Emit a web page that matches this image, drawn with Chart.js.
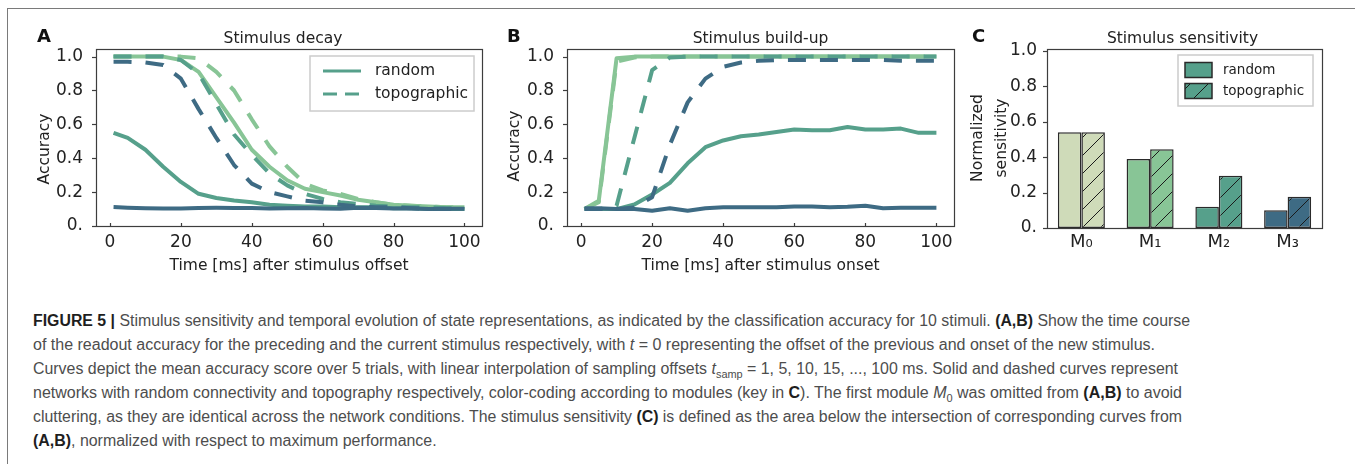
<!DOCTYPE html>
<html>
<head>
<meta charset="utf-8">
<script src="https://cdn.jsdelivr.net/npm/chart.js@4.4.1/dist/chart.umd.min.js"></script>
<style>
html, body { margin: 0; padding: 0; background: #fff; }
body { width: 1355px; height: 467px; position: relative; overflow: hidden; }
.frame { position: absolute; left: 7px; top: 8px; width: 1400px; height: 455px; border-left: 1.5px solid #7a7a7a; border-top: 1.5px solid #7a7a7a; }
canvas { position: absolute; top: 0; }
#capt { position: absolute; left: 33px; top: 309px; font-family: 'Liberation Sans Narrow', 'Liberation Sans', Arial, sans-serif; font-size: 16px; color: #4d4d4d; }
#capt div { white-space: nowrap; line-height: 24px; height: 24px; width: max-content; transform-origin: 0 0; }
#capt b { color: #1e1e1e; }
#capt sub { font-size: 11px; vertical-align: -4px; line-height: 0; }
</style>
</head>
<body>
<div class="frame"></div>
<canvas id="cA" width="490" height="290" style="left:0"></canvas>
<canvas id="cB" width="470" height="290" style="left:490px"></canvas>
<canvas id="cC" width="405" height="290" style="left:950px"></canvas>
<div id="capt">
<div><b>FIGURE 5 |</b> Stimulus sensitivity and temporal evolution of state representations, as indicated by the classification accuracy for 10 stimuli. <b>(A,B)</b> Show the time course</div>
<div>of the readout accuracy for the preceding and the current stimulus respectively, with <i>t</i> = 0 representing the offset of the previous and onset of the new stimulus.</div>
<div>Curves depict the mean accuracy score over 5 trials, with linear interpolation of sampling offsets <i>t</i><sub>samp</sub> = 1, 5, 10, 15, ..., 100 ms. Solid and dashed curves represent</div>
<div>networks with random connectivity and topography respectively, color-coding according to modules (key in <b>C</b>). The first module <i>M</i><sub>0</sub> was omitted from <b>(A,B)</b> to avoid</div>
<div>cluttering, as they are identical across the network conditions. The stimulus sensitivity <b>(C)</b> is defined as the area below the intersection of corresponding curves from</div>
<div><b>(A,B)</b>, normalized with respect to maximum performance.</div>
</div>
<script>
// sampling offsets (ms)
const times = [1, 5, 10, 15, 20, 25, 30, 35, 40, 45, 50, 55, 60, 65, 70, 75, 80, 85, 90, 95, 100];

// A: accuracy for the previous stimulus after its offset
const decayRandomM1 = [1.0, 1.0, 1.0, 1.0, 0.98, 0.91, 0.76, 0.61, 0.45, 0.35, 0.27, 0.22, 0.2, 0.18, 0.155, 0.14, 0.125, 0.12, 0.115, 0.11, 0.11];
const decayTopoM1   = [1.0, 1.0, 1.0, 1.0, 1.0, 0.99, 0.91, 0.8, 0.63, 0.47, 0.35, 0.25, 0.21, 0.19, 0.16, 0.14, 0.125, 0.12, 0.115, 0.11, 0.11];
const decayRandomM2 = [0.55, 0.52, 0.45, 0.35, 0.26, 0.19, 0.165, 0.15, 0.14, 0.125, 0.12, 0.115, 0.115, 0.11, 0.11, 0.11, 0.105, 0.105, 0.1, 0.1, 0.1];
const decayTopoM2   = [1.0, 1.0, 1.0, 1.0, 0.98, 0.9, 0.72, 0.54, 0.42, 0.31, 0.24, 0.19, 0.16, 0.14, 0.13, 0.12, 0.115, 0.11, 0.11, 0.105, 0.105];
const decayRandomM3 = [0.112, 0.108, 0.105, 0.103, 0.104, 0.107, 0.108, 0.107, 0.106, 0.104, 0.105, 0.106, 0.104, 0.102, 0.108, 0.106, 0.104, 0.103, 0.1, 0.102, 0.102];
const decayTopoM3   = [0.97, 0.97, 0.965, 0.95, 0.87, 0.69, 0.52, 0.36, 0.25, 0.2, 0.175, 0.15, 0.14, 0.125, 0.115, 0.11, 0.11, 0.105, 0.1, 0.1, 0.1];

// B: accuracy for the current stimulus after its onset
const buildRandomM1 = [0.1, 0.15, 0.99, 1.0, 1.0, 1.0, 1.0, 1.0, 1.0, 1.0, 1.0, 1.0, 1.0, 1.0, 1.0, 1.0, 1.0, 1.0, 1.0, 1.0, 1.0];
const buildTopoM1   = [0.1, 0.14, 0.97, 0.995, 1.0, 1.0, 1.0, 1.0, 1.0, 1.0, 1.0, 1.0, 1.0, 1.0, 1.0, 1.0, 1.0, 1.0, 1.0, 1.0, 1.0];
const buildRandomM2 = [0.1, 0.1, 0.1, 0.127, 0.186, 0.255, 0.37, 0.465, 0.505, 0.53, 0.54, 0.555, 0.57, 0.565, 0.565, 0.585, 0.57, 0.57, 0.575, 0.55, 0.55];
const buildTopoM2   = [0.1, 0.1, 0.12, 0.52, 0.92, 0.995, 1.0, 1.0, 1.0, 1.0, 1.0, 1.0, 1.0, 1.0, 1.0, 1.0, 1.0, 1.0, 1.0, 1.0, 1.0];
const buildRandomM3 = [0.105, 0.105, 0.1, 0.1, 0.09, 0.105, 0.09, 0.105, 0.11, 0.11, 0.11, 0.11, 0.115, 0.115, 0.11, 0.113, 0.12, 0.105, 0.108, 0.108, 0.108];
const buildTopoM3   = [0.1, 0.1, 0.1, 0.11, 0.17, 0.48, 0.73, 0.87, 0.94, 0.965, 0.975, 0.98, 0.98, 0.98, 0.98, 0.98, 0.98, 0.98, 0.975, 0.975, 0.975];

// C: normalized stimulus sensitivity per module
const moduleLabels = ['M\u2080', 'M\u2081', 'M\u2082', 'M\u2083'];
const sensRandom = [0.54, 0.39, 0.12, 0.10];
const sensTopo   = [0.54, 0.445, 0.295, 0.177];

const conditions = ['random', 'topographic'];
const moduleColors = ['#cfdbb9', '#88c596', '#56a08b', '#3e6b84'];

Chart.defaults.font.family = "'DejaVu Sans', sans-serif";
Chart.defaults.color = '#222';

const INK = '#222';
const DASH = [18, 14];

// letters, titles, y labels, axes box, tick marks and legends on top of each panel
const decor = {
  id: 'decor',
  afterDraw(chart, args, o) {
    const { ctx, chartArea: a, scales } = chart;
    ctx.save();
    ctx.fillStyle = '#111';
    ctx.textBaseline = 'alphabetic';
    ctx.textAlign = 'left';
    ctx.font = "bold 18px 'DejaVu Sans'";
    ctx.fillText(o.letter, o.letterX, 42);
    ctx.fillStyle = INK;
    ctx.textAlign = 'center';
    ctx.font = "15.5px 'DejaVu Sans'";
    ctx.fillText(o.title, (a.left + a.right) / 2 + o.titleShift, 43);

    // rotated y-axis label, one column per line
    ctx.textBaseline = 'middle';
    o.yLabel.forEach((line, i) => {
      ctx.save();
      ctx.translate(o.yLabelX[i], o.yLabelY);
      ctx.rotate(-Math.PI / 2);
      ctx.fillText(line, 0, 0);
      ctx.restore();
    });

    ctx.strokeStyle = '#3d3d3d';
    ctx.lineWidth = 1.2;
    scales.y.ticks.forEach(t => {
      const y = Math.round(scales.y.getPixelForValue(t.value)) + 0.5;
      ctx.beginPath(); ctx.moveTo(a.left - 4, y); ctx.lineTo(a.left, y); ctx.stroke();
    });
    if (scales.x.type === 'linear') {
      scales.x.ticks.forEach(t => {
        const x = Math.round(scales.x.getPixelForValue(t.value)) + 0.5;
        ctx.beginPath(); ctx.moveTo(x, a.bottom - 3); ctx.lineTo(x, a.bottom); ctx.stroke();
      });
    }
    ctx.strokeRect(Math.round(a.left) + 0.5, Math.round(a.top) + 0.5, Math.round(a.width), Math.round(a.height));

    const lg = o.legend;
    if (lg) {
      const bx = a.right - lg.right - lg.w, by = a.top + lg.top;
      ctx.fillStyle = '#fff';
      ctx.fillRect(bx, by, lg.w, lg.h);
      ctx.strokeStyle = '#cccccc';
      ctx.lineWidth = 1.5;
      ctx.strokeRect(bx, by, lg.w, lg.h);
      ctx.font = lg.font;
      ctx.textAlign = 'left';
      ctx.textBaseline = 'middle';
      conditions.forEach((name, i) => {
        const ry = by + lg.rows[i];
        if (lg.kind === 'line') {
          ctx.strokeStyle = moduleColors[2];
          ctx.lineWidth = 3;
          ctx.setLineDash(i === 1 ? [14, 8] : []);
          ctx.beginPath(); ctx.moveTo(bx + 13, ry); ctx.lineTo(bx + 51, ry); ctx.stroke();
          ctx.setLineDash([]);
        } else {
          ctx.fillStyle = i === 1 ? hatch(moduleColors[2]) : moduleColors[2];
          ctx.fillRect(bx + 7, ry - 7.5, 27, 15);
          ctx.strokeStyle = '#2a2a2a';
          ctx.lineWidth = 1.5;
          ctx.strokeRect(bx + 7, ry - 7.5, 27, 15);
        }
        ctx.fillStyle = INK;
        ctx.fillText(name, bx + lg.textX, ry);
      });
    }
    ctx.restore();
  }
};

// diagonal '/' hatch fill
function hatch(color) {
  const tile = document.createElement('canvas');
  tile.width = tile.height = 18;
  const g = tile.getContext('2d');
  g.fillStyle = color;
  g.fillRect(0, 0, 18, 18);
  g.strokeStyle = '#1a1a1a';
  g.lineWidth = 1;
  g.beginPath();
  g.moveTo(0, 18); g.lineTo(18, 0);
  g.moveTo(-2, 2); g.lineTo(2, -2);
  g.moveTo(16, 20); g.lineTo(20, 16);
  g.stroke();
  return document.getElementById('cC').getContext('2d').createPattern(tile, 'repeat');
}

function series(values, m, dashed, order) {
  return {
    data: values.map((v, i) => ({ x: times[i], y: v })),
    borderColor: moduleColors[m],
    borderWidth: 4,
    borderDash: dashed ? DASH : [],
    borderCapStyle: 'butt',
    borderJoinStyle: 'round',
    pointRadius: 0,
    tension: 0,
    fill: false,
    order
  };
}

const yTickFmt = v => v === 0 ? '0.' : v.toFixed(1);

function lineChart(id, sets, xTitle, pad, yWidth, deco) {
  return new Chart(document.getElementById(id), {
    type: 'line',
    data: {
      datasets: [
        series(sets[0], 1, false, 6), series(sets[1], 1, true, 5),
        series(sets[2], 2, false, 4), series(sets[3], 2, true, 3),
        series(sets[4], 3, false, 2), series(sets[5], 3, true, 1)
      ]
    },
    options: {
      responsive: false,
      animation: false,
      events: [],
      layout: { padding: pad },
      plugins: { legend: { display: false }, tooltip: { enabled: false }, decor: deco },
      scales: {
        x: {
          type: 'linear', min: -3.95, max: 104.95,
          afterFit: s => { s.height = 49; },
          border: { display: false },
          grid: { display: false },
          ticks: { stepSize: 20, includeBounds: false, font: { size: 17 }, color: INK, padding: -2, maxRotation: 0 },
          title: { display: true, text: xTitle, font: { size: 15.5 }, color: INK, padding: 0 }
        },
        y: {
          min: 0, max: 1.045,
          afterFit: s => { s.width = yWidth; },
          border: { display: false },
          grid: { display: false },
          ticks: { stepSize: 0.2, includeBounds: false, font: { size: 17 }, color: INK, padding: 5, callback: yTickFmt }
        }
      }
    },
    plugins: [decor]
  });
}

lineChart('cA',
  [decayRandomM1, decayTopoM1, decayRandomM2, decayTopoM2, decayRandomM3, decayTopoM3],
  'Time [ms] after stimulus offset',
  { left: 0, top: 49, right: 8, bottom: 15 }, 96,
  { letter: 'A', letterX: 37, title: 'Stimulus decay', titleShift: -6,
    yLabel: ['Accuracy'], yLabelX: [45], yLabelY: 149,
    legend: { kind: 'line', right: 8, top: 7, w: 164, h: 55, rows: [15, 38], textX: 65, font: "15.5px 'DejaVu Sans'" } });

lineChart('cB',
  [buildRandomM1, buildTopoM1, buildRandomM2, buildTopoM2, buildRandomM3, buildTopoM3],
  'Time [ms] after stimulus onset',
  { left: 0, top: 49, right: 6, bottom: 15 }, 77,
  { letter: 'B', letterX: 17, title: 'Stimulus build-up', titleShift: 0,
    yLabel: ['Accuracy'], yLabelX: [25], yLabelY: 146 });

new Chart(document.getElementById('cC'), {
  type: 'bar',
  data: {
    labels: moduleLabels,
    datasets: [
      { label: conditions[0], data: sensRandom, backgroundColor: moduleColors,
        borderColor: '#2a2a2a', borderWidth: 1.5, borderSkipped: false, categoryPercentage: 0.684, barPercentage: 1 },
      { label: conditions[1], data: sensTopo, backgroundColor: moduleColors.map(hatch),
        borderColor: '#2a2a2a', borderWidth: 1.5, borderSkipped: false, categoryPercentage: 0.684, barPercentage: 1 }
    ]
  },
  options: {
    responsive: false,
    animation: false,
    events: [],
    layout: { padding: { left: 0, top: 49, right: 33, bottom: 0 } },
    plugins: {
      legend: { display: false }, tooltip: { enabled: false },
      decor: { letter: 'C', letterX: 22, title: 'Stimulus sensitivity', titleShift: -2,
        yLabel: ['Normalized', 'sensitivity'], yLabelX: [28, 52], yLabelY: 138,
        legend: { kind: 'bar', right: 9, top: 6, w: 135, h: 51, rows: [15, 36], textX: 45, font: "13.5px 'DejaVu Sans'" } }
    },
    scales: {
      x: {
        offset: true,
        afterFit: s => { s.height = 62; },
        border: { display: false },
        grid: { display: false },
        ticks: { font: { size: 18 }, color: INK, padding: -4 }
      },
      y: {
        min: 0, max: 1.01,
        afterFit: s => { s.width = 97; },
        border: { display: false },
        grid: { display: false },
        ticks: { stepSize: 0.2, includeBounds: false, font: { size: 17 }, color: INK, padding: 2, callback: yTickFmt }
      }
    }
  },
  plugins: [decor]
});

// squeeze each caption line to its column width; the short last line takes the mean squeeze
const captionWidths = [1157, 1122, 1145, 1149, 1149];
document.fonts.ready.then(() => {
  const lines = [...document.querySelectorAll('#capt div')];
  const scales = captionWidths.map((cw, i) => cw / lines[i].getBoundingClientRect().width);
  const mean = scales.reduce((s, v) => s + v, 0) / scales.length;
  lines.forEach((el, i) => {
    el.style.transform = `scaleX(${i < scales.length ? scales[i] : mean})`;
  });
});
</script>
</body>
</html>
